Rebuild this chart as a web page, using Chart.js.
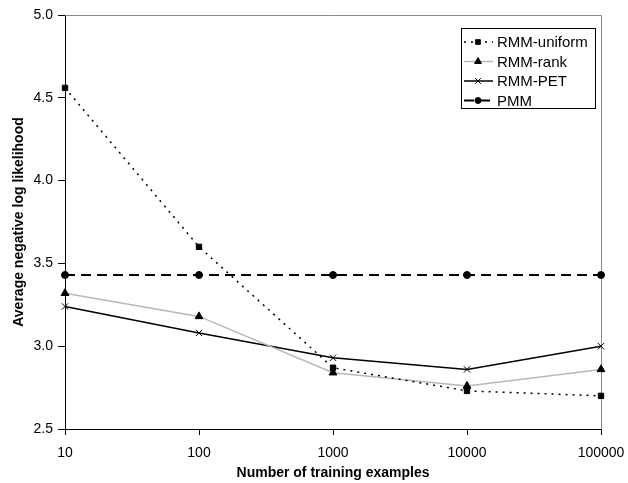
<!DOCTYPE html>
<html>
<head>
<meta charset="utf-8">
<script src="https://cdn.jsdelivr.net/npm/chart.js@4.4.1/dist/chart.umd.min.js"></script>
<style>
  html, body { margin: 0; padding: 0; background: #fff; }
  #wrap { width: 628px; height: 483px; }
</style>
</head>
<body>
<div id="wrap"><canvas id="chart" width="628" height="483"></canvas></div>
<script>
const trainSizes = ["10", "100", "1000", "10000", "100000"];
const rmmUniform = [4.56, 3.60, 2.87, 2.73, 2.70];
const rmmRank    = [3.32, 3.18, 2.84, 2.76, 2.86];
const rmmPet     = [3.24, 3.08, 2.93, 2.86, 3.00];
const pmm        = [3.43, 3.43, 3.43, 3.43, 3.43];
const yTicks     = [2.5, 3.0, 3.5, 4.0, 4.5, 5.0];

const FONT = "'Liberation Sans', Arial, sans-serif";
Chart.defaults.font.family = FONT;
Chart.defaults.color = "#000";

// legend drawn inside the plot, Excel style
const boxLegend = {
  id: "boxLegend",
  afterDraw(chart) {
    const ctx = chart.ctx;
    const x0 = 461, y0 = 28, w = 134, h = 80, row = 19.5;
    ctx.save();
    ctx.fillStyle = "#fff";
    ctx.fillRect(x0, y0, w, h);
    ctx.strokeStyle = "#000";
    ctx.lineWidth = 1;
    ctx.strokeRect(x0 + 0.5, y0 + 0.5, w, h);
    ctx.font = "15px " + FONT;
    ctx.textBaseline = "middle";
    chart.data.datasets.forEach((ds, i) => {
      const y = y0 + 14 + i * row;
      ctx.beginPath();
      ctx.setLineDash(ds.borderDash || []);
      ctx.strokeStyle = ds.borderColor;
      ctx.lineWidth = ds.borderWidth;
      ctx.moveTo(x0 + 3, y);
      ctx.lineTo(x0 + 32, y);
      ctx.stroke();
      ctx.setLineDash([]);
      ctx.fillStyle = "#000";
      ctx.strokeStyle = "#000";
      ctx.lineWidth = 1;
      Chart.helpers.drawPoint(ctx, {
        pointStyle: ds.pointStyle, radius: ds.pointRadius - 0.5, borderWidth: 1
      }, x0 + 17, y);
      ctx.fillStyle = "#000";
      ctx.fillText(ds.label, x0 + 36, y + 1);
    });
    ctx.restore();
  }
};

const plotFrame = {
  id: "plotFrame",
  beforeDatasetsDraw(chart) {
    const a = chart.chartArea, ctx = chart.ctx;
    ctx.save();
    ctx.strokeStyle = "#888";
    ctx.lineWidth = 1;
    ctx.beginPath();
    ctx.moveTo(a.left, a.top + 0.5);
    ctx.lineTo(a.right + 0.5, a.top + 0.5);
    ctx.lineTo(a.right + 0.5, a.bottom);
    ctx.stroke();
    ctx.restore();
  }
};

function line(label, data, color, width, dash, style, radius) {
  return {
    label, data,
    borderColor: color, borderWidth: width, borderDash: dash,
    pointStyle: style, pointRadius: radius, pointHoverRadius: radius,
    pointBackgroundColor: "#000", pointBorderColor: "#000", pointBorderWidth: 1,
    fill: false, tension: 0
  };
}

new Chart(document.getElementById("chart"), {
  type: "line",
  data: {
    labels: trainSizes,
    datasets: [
      line("RMM-uniform", rmmUniform, "#000", 1.5, [2, 5], "rect", 3.8),
      line("RMM-rank", rmmRank, "#b8b8b8", 1.5, [], "triangle", 4.5),
      line("RMM-PET", rmmPet, "#000", 1.5, [], "crossRot", 4.5),
      line("PMM", pmm, "#000", 2, [10, 6], "circle", 3.5)
    ]
  },
  options: {
    responsive: false,
    animation: false,
    layout: { padding: { top: 15, right: 27, left: 0, bottom: 0 } },
    plugins: { legend: { display: false }, tooltip: { enabled: false } },
    scales: {
      x: {
        offset: false,
        grid: { display: true, drawOnChartArea: false, drawTicks: true, tickLength: 6, color: "#000" },
        border: { display: true, color: "#000", width: 1 },
        ticks: { font: { size: 14 }, padding: 10, maxRotation: 0, autoSkip: false },
        title: { display: true, text: "Number of training examples", font: { size: 14, weight: "bold" }, padding: { top: 0, bottom: 1 } },
        afterFit(s) { s.height = 54; s.paddingLeft = 0; s.paddingRight = 0; }
      },
      y: {
        min: 2.5, max: 5.0,
        afterBuildTicks(s) { s.ticks = yTicks.map(v => ({ value: v })); },
        grid: { display: true, drawOnChartArea: false, drawTicks: true, tickLength: 7, color: "#000" },
        border: { display: true, color: "#000", width: 1 },
        ticks: { font: { size: 14 }, padding: 5, callback: v => v.toFixed(1) },
        title: { display: true, text: "Average negative log likelihood", font: { size: 14, weight: "bold" }, padding: { top: 11, bottom: 0 } },
        afterFit(s) { s.width = 65; s.paddingTop = 0; s.paddingBottom = 0; }
      }
    }
  },
  plugins: [plotFrame, boxLegend]
});
</script>
</body>
</html>
